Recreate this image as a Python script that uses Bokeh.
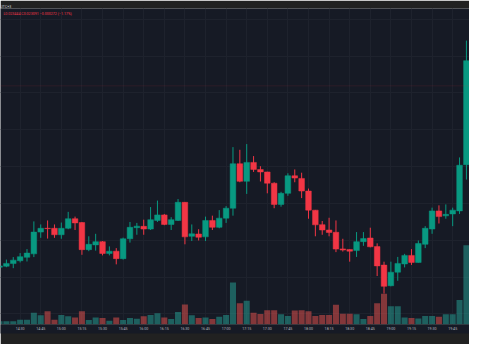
from bokeh.plotting import figure
from bokeh.models import Range1d, FixedTicker, ColumnDataSource, Span, Label
from bokeh.embed import file_html
from bokeh.resources import INLINE

# ---- data (5-minute candles, 14:15 .. 19:55) ----
opens = [0.023205, 0.023210, 0.023224, 0.023239, 0.023257, 0.023275, 0.023389, 0.023409, 0.023409, 0.023375,
         0.023409, 0.023459, 0.023439, 0.023297, 0.023322, 0.023339, 0.023277, 0.023289, 0.023250, 0.023354,
         0.023412, 0.023419, 0.023405, 0.023450, 0.023479, 0.023429, 0.023450, 0.023545, 0.023367, 0.023379,
         0.023364, 0.023450, 0.023414, 0.023462, 0.023514, 0.023747, 0.023655, 0.023754, 0.023717, 0.023704,
         0.023645, 0.023534, 0.023592, 0.023684, 0.023670, 0.023604, 0.023504, 0.023428, 0.023400, 0.023388,
         0.023301, 0.023298, 0.023292, 0.023339, 0.023358, 0.023313, 0.023216, 0.023108, 0.023179, 0.023222,
         0.023267, 0.023230, 0.023325, 0.023405, 0.023500, 0.023474, 0.023484, 0.023500, 0.023742]
highs = [0.023218, 0.023245, 0.023258, 0.023279, 0.023300, 0.023445, 0.023429, 0.023450, 0.023429, 0.023439,
         0.023495, 0.023470, 0.023442, 0.023367, 0.023380, 0.023342, 0.023314, 0.023305, 0.023360, 0.023442,
         0.023437, 0.023454, 0.023520, 0.023554, 0.023484, 0.023467, 0.023562, 0.023546, 0.023429, 0.023404,
         0.023470, 0.023475, 0.023504, 0.023525, 0.023834, 0.023820, 0.023850, 0.023787, 0.023734, 0.023705,
         0.023650, 0.023600, 0.023697, 0.023717, 0.023700, 0.023617, 0.023505, 0.023447, 0.023464, 0.023450,
         0.023354, 0.023299, 0.023389, 0.023389, 0.023412, 0.023330, 0.023234, 0.023234, 0.023259, 0.023275,
         0.023300, 0.023345, 0.023420, 0.023517, 0.023529, 0.023534, 0.023517, 0.023780, 0.024392]
lows = [0.023200, 0.023205, 0.023200, 0.023230, 0.023235, 0.023258, 0.023359, 0.023355, 0.023359, 0.023354,
        0.023404, 0.023400, 0.023270, 0.023289, 0.023292, 0.023267, 0.023267, 0.023220, 0.023245, 0.023334,
        0.023375, 0.023375, 0.023400, 0.023442, 0.023425, 0.023400, 0.023447, 0.023325, 0.023342, 0.023345,
        0.023342, 0.023400, 0.023409, 0.023437, 0.023475, 0.023650, 0.023589, 0.023704, 0.023654, 0.023592,
        0.023514, 0.023522, 0.023579, 0.023650, 0.023567, 0.023459, 0.023367, 0.023375, 0.023367, 0.023284,
        0.023287, 0.023234, 0.023259, 0.023317, 0.023309, 0.023159, 0.023067, 0.023105, 0.023134, 0.023204,
        0.023217, 0.023229, 0.023305, 0.023380, 0.023434, 0.023459, 0.023420, 0.023484, 0.023664]
closes = [0.023212, 0.023225, 0.023242, 0.023260, 0.023279, 0.023389, 0.023409, 0.023407, 0.023375, 0.023409,
          0.023459, 0.023437, 0.023297, 0.023325, 0.023339, 0.023277, 0.023289, 0.023250, 0.023354, 0.023414,
          0.023420, 0.023405, 0.023454, 0.023479, 0.023429, 0.023454, 0.023545, 0.023364, 0.023380, 0.023362,
          0.023450, 0.023414, 0.023462, 0.023514, 0.023747, 0.023655, 0.023754, 0.023717, 0.023704, 0.023645,
          0.023534, 0.023592, 0.023684, 0.023672, 0.023604, 0.023504, 0.023427, 0.023400, 0.023387, 0.023300,
          0.023295, 0.023289, 0.023339, 0.023355, 0.023312, 0.023212, 0.023105, 0.023179, 0.023225, 0.023267,
          0.023230, 0.023329, 0.023409, 0.023500, 0.023470, 0.023482, 0.023504, 0.023739, 0.024287]
volumes = [33, 33, 33, 50, 50, 123, 97, 140, 50, 100,
           87, 73, 140, 47, 73, 67, 40, 73, 47, 67,
           60, 87, 100, 117, 73, 57, 130, 210, 97, 67,
           73, 57, 80, 100, 440, 223, 250, 123, 110, 150,
           150, 107, 90, 147, 150, 140, 90, 100, 100, 207,
           113, 113, 107, 57, 90, 223, 323, 190, 190, 73,
           67, 63, 90, 90, 80, 107, 107, 257, 830]
tick_labels = ["14:15", "14:30", "14:45", "15:00", "15:15", "15:30", "15:45", "16:00",
               "16:15", "16:30", "16:45", "17:00", "17:15", "17:30", "17:45", "18:00",
               "18:15", "18:30", "18:45", "19:00", "19:15", "19:30", "19:45"]
grid_prices = [0.024502, 0.024310, 0.024118, 0.023925, 0.023730, 0.023538, 0.023345, 0.023152, 0.022960]
price_line = 0.024155
legend_text = "L0.023444  C0.023091  \u22120.000272 (\u22121.17%)"

UP, DOWN = "#089981", "#f23645"
BG = "#161a25"

idx = list(range(len(opens)))
colors = [UP if c >= o else DOWN for o, c in zip(opens, closes)]
vcolors = ["#26a69a" if c >= o else "#ef5350" for o, c in zip(opens, closes)]
src = ColumnDataSource(dict(x=idx, o=opens, h=highs, l=lows, c=closes, v=volumes,
                            col=colors, vcol=vcolors))

p = figure(width=469, height=344, output_backend="svg", toolbar_location=None,
           x_range=Range1d(0.1408, 68.45), y_range=Range1d(0.022905, 0.02456),
           y_axis_location=None, min_border_left=0, min_border_right=0,
           min_border_top=8, min_border_bottom=20,
           background_fill_color=BG, border_fill_color="#212121", outline_line_color=None)
p.extra_y_ranges = {"vol": Range1d(0, 3310)}

# grid
ticks = list(range(0, 3 * len(tick_labels), 3))
p.xaxis.ticker = FixedTicker(ticks=ticks)
p.xaxis.major_label_overrides = {t: lab for t, lab in zip(ticks, tick_labels)}
p.xgrid.ticker = FixedTicker(ticks=ticks)
p.ygrid.ticker = FixedTicker(ticks=grid_prices)
p.grid.grid_line_color = "#1e222d"
p.grid.grid_line_width = 1

p.xaxis.axis_line_color = None
p.xaxis.major_tick_line_color = None
p.xaxis.minor_tick_line_color = None
p.xaxis.major_tick_out = 0
p.xaxis.major_tick_in = 0
p.xaxis.major_label_standoff = 2
p.xaxis.major_label_text_font_size = "3.6px"
p.xaxis.major_label_text_color = "#b2b5be"
p.xaxis.major_label_text_font = "Roboto"
p.xaxis.background_fill_color = BG

# volume
p.vbar(x="x", top="v", bottom=0, width=0.88, source=src, y_range_name="vol",
       fill_color="vcol", fill_alpha=0.5, line_color=None)

p.add_layout(Span(location=price_line, dimension="width", line_color=DOWN,
                  line_alpha=0.2, line_dash="1 1", line_width=1))

# candles
p.segment(x0="x", y0="h", x1="x", y1="l", source=src, line_color="col", line_width=1)
p.vbar(x="x", top="o", bottom="c", width=0.82, source=src,
       fill_color="col", line_color="col", line_width=0.5)

p.add_layout(Label(x=0.56, y=0.02453, text=legend_text, text_font_size="3.6px",
                   text_color=DOWN, text_baseline="middle", text_font="Roboto"))

p.title.text = "UTC+3"
p.title.text_font_size = "3.6px"
p.title.text_color = "#d1d4dc"
p.title.text_font = "Roboto"
p.title.text_font_style = "normal"
p.title.standoff = 0

open("out.html", "w").write(file_html(p, INLINE))
